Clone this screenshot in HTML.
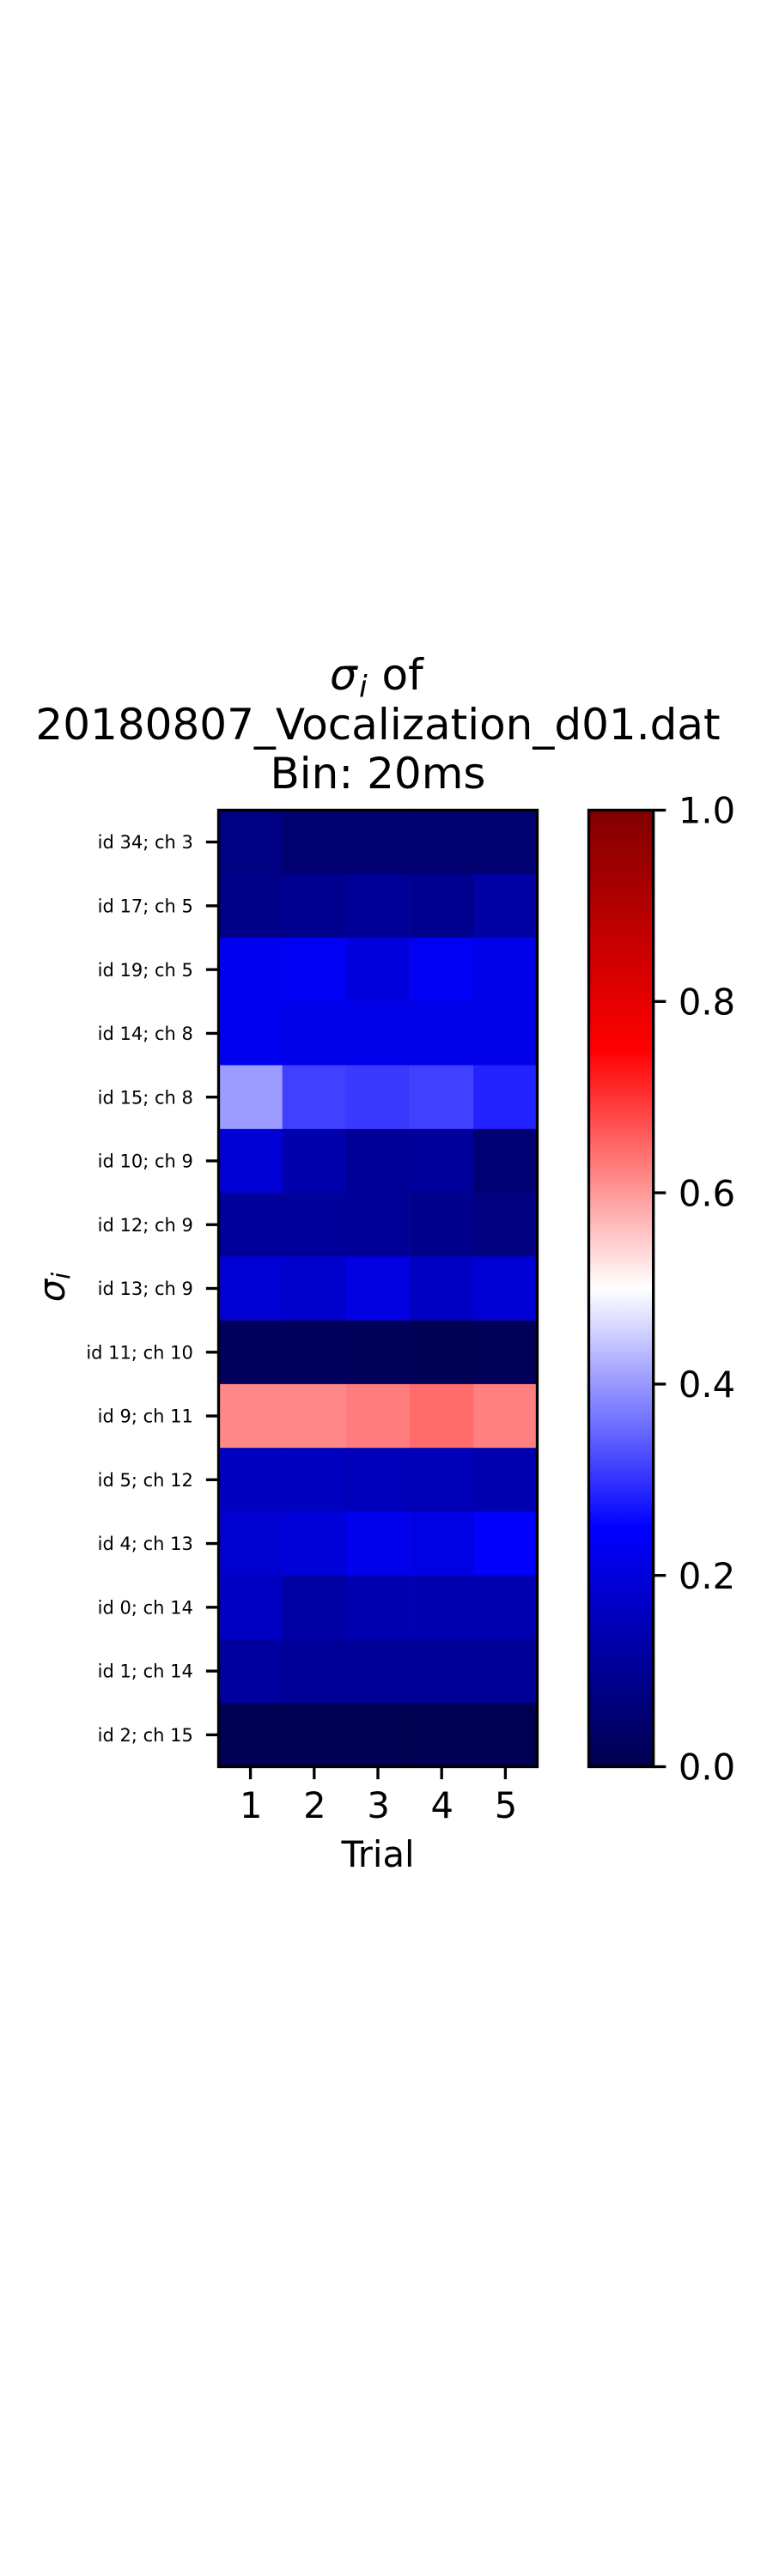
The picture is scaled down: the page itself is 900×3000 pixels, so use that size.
<!DOCTYPE html>
<html lang="en">
<head>
<meta charset="utf-8">
<title>Sigma heatmap</title>
<style>
html,body{margin:0;padding:0;background:#fff;}
body{width:900px;height:3000px;overflow:hidden;}
svg{display:block;}
text{font-family:"DejaVu Sans","Liberation Sans",sans-serif;fill:#000;}
</style>
</head>
<body>
<svg id="chart" xmlns="http://www.w3.org/2000/svg" width="900" height="3000" viewBox="0 0 900 3000">
  <rect x="0" y="0" width="900" height="3000" fill="#fff"/>
  <text x="384" y="803" font-size="50"><tspan font-style="italic">σ</tspan><tspan font-style="italic" font-size="35" x="418" dy="8.5">i</tspan><tspan x="444.5" dy="-8.5">of</tspan></text>
  <text x="440" y="861" font-size="50" text-anchor="middle">20180807_Vocalization_d01.dat</text>
  <text x="440" y="918" font-size="50" text-anchor="middle">Bin: 20ms</text>
  <g id="heatmap-cells"></g>
  <g id="y-ticks"></g>
  <g id="x-ticks"></g>
  <rect id="heatmap-frame" fill="none" stroke="#000" stroke-width="3.33"/>
  <text x="440" y="2174" font-size="41.67" text-anchor="middle">Trial</text>
  <text transform="translate(75,1499) rotate(-90)" font-size="41.67" text-anchor="middle"><tspan font-style="italic">σ</tspan><tspan font-style="italic" font-size="29" dy="6.7">i</tspan></text>
  <defs>
    <linearGradient id="cbar-gradient" x1="0" y1="1" x2="0" y2="0"></linearGradient>
  </defs>
  <rect id="colorbar" fill="url(#cbar-gradient)"/>
  <g id="cbar-ticks"></g>
  <rect id="colorbar-frame" fill="none" stroke="#000" stroke-width="3.33"/>
</svg>
<script>
const rowLabels = ["id 34; ch 3","id 17; ch 5","id 19; ch 5","id 14; ch 8","id 15; ch 8","id 10; ch 9","id 12; ch 9","id 13; ch 9","id 11; ch 10","id 9; ch 11","id 5; ch 12","id 4; ch 13","id 0; ch 14","id 1; ch 14","id 2; ch 15"];
const trials = [1, 2, 3, 4, 5];
const row0 = [0.075, 0.050, 0.050, 0.050, 0.050];
const row1 = [0.083, 0.093, 0.103, 0.093, 0.121];
const row2 = [0.229, 0.236, 0.202, 0.236, 0.215];
const row3 = [0.229, 0.218, 0.218, 0.218, 0.218];
const row4 = [0.403, 0.3125, 0.307, 0.3125, 0.283];
const row5 = [0.190, 0.134, 0.103, 0.108, 0.054];
const row6 = [0.108, 0.108, 0.103, 0.086, 0.072];
const row7 = [0.190, 0.179, 0.206, 0.167, 0.190];
const row8 = [0.022, 0.022, 0.016, 0.012, 0.016];
const row9 = [0.617, 0.617, 0.628, 0.644, 0.625];
const row10 = [0.162, 0.162, 0.155, 0.151, 0.139];
const row11 = [0.184, 0.195, 0.225, 0.212, 0.244];
const row12 = [0.167, 0.122, 0.139, 0.139, 0.139];
const row13 = [0.114, 0.106, 0.106, 0.106, 0.106];
const row14 = [0.008, 0.008, 0.008, 0.008, 0.008];
const sigmaRows = [row0,row1,row2,row3,row4,row5,row6,row7,row8,row9,row10,row11,row12,row13,row14];
const colorbarTicks = [0.0, 0.2, 0.4, 0.6, 0.8, 1.0];
const colorbarLabels = ["0.0", "0.2", "0.4", "0.6", "0.8", "1.0"];

const NS = "http://www.w3.org/2000/svg";
const plot = {left: 254.5, right: 625.5, top: 943.5, bottom: 2057.5};
const bar = {left: 685.5, right: 760.7};
const tickLen = 14.6;

function xBand(i) { return plot.left + (plot.right - plot.left) * i / trials.length; }
function yBand(i) { return plot.top + (plot.bottom - plot.top) * i / rowLabels.length; }
function cbarY(v) { return plot.bottom - (plot.bottom - plot.top) * v; }

function seismic(v) {
  let r, g, b;
  if (v <= 0.25) { r = 0; g = 0; b = 0.3 + 0.7 * v / 0.25; }
  else if (v <= 0.5) { r = g = (v - 0.25) / 0.25; b = 1; }
  else if (v <= 0.75) { r = 1; g = b = 1 - (v - 0.5) / 0.25; }
  else { r = 1 - 0.5 * (v - 0.75) / 0.25; g = 0; b = 0; }
  return "rgb(" + Math.round(r * 255) + "," + Math.round(g * 255) + "," + Math.round(b * 255) + ")";
}

function make(tag, attrs, parent) {
  const el = document.createElementNS(NS, tag);
  for (const k in attrs) el.setAttribute(k, attrs[k]);
  parent.appendChild(el);
  return el;
}

const cellsG = document.getElementById("heatmap-cells");
sigmaRows.forEach(function (row, r) {
  row.forEach(function (v, c) {
    const cell = make("rect", {
      x: xBand(c), y: yBand(r),
      width: xBand(c + 1) - xBand(c) + 0.3,
      height: yBand(r + 1) - yBand(r) + 0.3,
      fill: seismic(v)
    }, cellsG);
    
    
  });
});

const yTicksG = document.getElementById("y-ticks");
rowLabels.forEach(function (label, r) {
  const y = (yBand(r) + yBand(r + 1)) / 2;
  const tick = make("line", {x1: plot.left - tickLen, x2: plot.left, y1: y, y2: y, stroke: "#000", "stroke-width": 3.33}, yTicksG);
  
  
  const t = make("text", {x: plot.left - 29.6, y: y + 7.6, "font-size": 21, "text-anchor": "end"}, yTicksG);
  t.textContent = label;
  
  
});

const xTicksG = document.getElementById("x-ticks");
trials.forEach(function (trial, c) {
  const x = (xBand(c) + xBand(c + 1)) / 2;
  const tick = make("line", {x1: x, x2: x, y1: plot.bottom, y2: plot.bottom + tickLen, stroke: "#000", "stroke-width": 3.33}, xTicksG);
  
  
  const t = make("text", {x: x + 0.6, y: 2117, "font-size": 41.67, "text-anchor": "middle"}, xTicksG);
  t.textContent = trial;
  
  
});

const frame = document.getElementById("heatmap-frame");
frame.setAttribute("x", plot.left);
frame.setAttribute("y", plot.top);
frame.setAttribute("width", plot.right - plot.left);
frame.setAttribute("height", plot.bottom - plot.top);

const grad = document.getElementById("cbar-gradient");
for (let i = 0; i <= 64; i++) {
  const v = i / 64;
  make("stop", {offset: v, "stop-color": seismic(v)}, grad);
}
["colorbar", "colorbar-frame"].forEach(function (id) {
  const el = document.getElementById(id);
  el.setAttribute("x", bar.left);
  el.setAttribute("y", plot.top);
  el.setAttribute("width", bar.right - bar.left);
  el.setAttribute("height", plot.bottom - plot.top);
});

const cbG = document.getElementById("cbar-ticks");
colorbarTicks.forEach(function (v, i) {
  const y = cbarY(v);
  const tick = make("line", {x1: bar.right, x2: bar.right + tickLen, y1: y, y2: y, stroke: "#000", "stroke-width": 3.33}, cbG);
  
  
  const t = make("text", {x: bar.right + tickLen + 14.6, y: y + 15.2, "font-size": 41.67}, cbG);
  t.textContent = colorbarLabels[i];
  
  
});
</script>
</body>
</html>
